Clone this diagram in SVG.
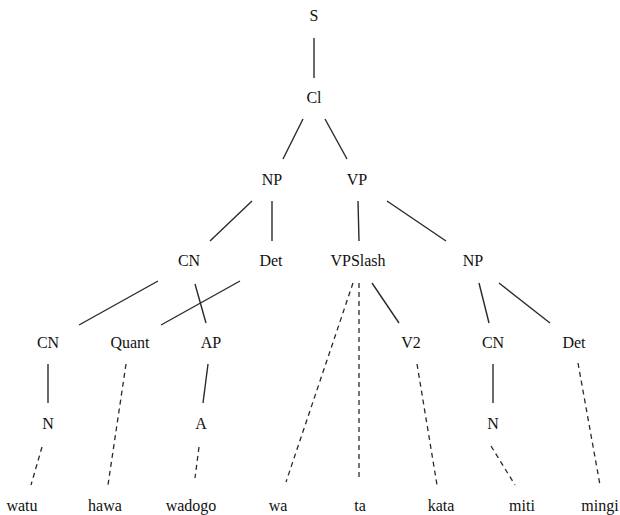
<svg xmlns="http://www.w3.org/2000/svg" width="620" height="515" viewBox="0 0 620 515">
<style>
text{font-family:"Liberation Serif","Times New Roman",serif;font-size:16px;fill:#111;text-anchor:middle}
.e{stroke:#2a2a2a;stroke-width:1.4;fill:none}
.d{stroke:#2a2a2a;stroke-width:1.3;fill:none;stroke-dasharray:5,4}
</style>
<rect width="620" height="515" fill="#fff"/>
<g id="connectors">
<line class="e" x1="314" y1="38" x2="314" y2="78"/>
<line class="e" x1="303" y1="119" x2="283" y2="159"/>
<line class="e" x1="325" y1="119" x2="347" y2="159"/>
<line class="e" x1="252" y1="201" x2="210" y2="241"/>
<line class="e" x1="272" y1="201" x2="272" y2="241"/>
<line class="e" x1="358" y1="201" x2="359" y2="241"/>
<line class="e" x1="387" y1="201" x2="446" y2="241"/>
<line class="e" x1="158" y1="281" x2="79" y2="325"/>
<line class="e" x1="195" y1="284" x2="206" y2="323"/>
<line class="e" x1="240" y1="281" x2="161" y2="325"/>
<line class="e" x1="372" y1="283" x2="399" y2="323"/>
<line class="e" x1="479" y1="283" x2="489" y2="323"/>
<line class="e" x1="499" y1="283" x2="550" y2="323"/>
<line class="e" x1="48" y1="364" x2="48" y2="403"/>
<line class="e" x1="208" y1="364" x2="203" y2="403"/>
<line class="e" x1="493" y1="364" x2="493" y2="403"/>
<line class="d" x1="353" y1="283" x2="286" y2="482"/>
<line class="d" x1="359" y1="283" x2="359" y2="480"/>
<line class="d" x1="126" y1="364" x2="108" y2="485"/>
<line class="d" x1="417" y1="364" x2="437" y2="485"/>
<line class="d" x1="578" y1="363" x2="600" y2="485"/>
<line class="d" x1="42" y1="447" x2="31" y2="485"/>
<line class="d" x1="199" y1="447" x2="195" y2="478"/>
<line class="d" x1="491" y1="446" x2="515" y2="485"/>
</g>
<g id="n-S"><text x="314" y="21">S</text></g>
<g id="n-Cl"><text x="314" y="103">Cl</text></g>
<g id="n-NP1"><text x="272" y="185">NP</text></g>
<g id="n-VP"><text x="357" y="185">VP</text></g>
<g id="n-CN1"><text x="189" y="266">CN</text></g>
<g id="n-Det1"><text x="271" y="266">Det</text></g>
<g id="n-VPSlash"><text x="358" y="266">VPSlash</text></g>
<g id="n-NP2"><text x="473" y="266">NP</text></g>
<g id="n-CN2"><text x="48" y="348">CN</text></g>
<g id="n-Quant"><text x="130" y="348">Quant</text></g>
<g id="n-AP"><text x="211" y="348">AP</text></g>
<g id="n-V2"><text x="411" y="348">V2</text></g>
<g id="n-CN3"><text x="493" y="348">CN</text></g>
<g id="n-Det2"><text x="574" y="348">Det</text></g>
<g id="n-N1"><text x="48" y="429">N</text></g>
<g id="n-A"><text x="201" y="429">A</text></g>
<g id="n-N2"><text x="493" y="429">N</text></g>
<g id="n-watu"><text x="22" y="511">watu</text></g>
<g id="n-hawa"><text x="105" y="511">hawa</text></g>
<g id="n-wadogo"><text x="191" y="511">wadogo</text></g>
<g id="n-wa"><text x="278" y="511">wa</text></g>
<g id="n-ta"><text x="360" y="511">ta</text></g>
<g id="n-kata"><text x="441" y="511">kata</text></g>
<g id="n-miti"><text x="522" y="511">miti</text></g>
<g id="n-mingi"><text x="600" y="511">mingi</text></g>
</svg>
